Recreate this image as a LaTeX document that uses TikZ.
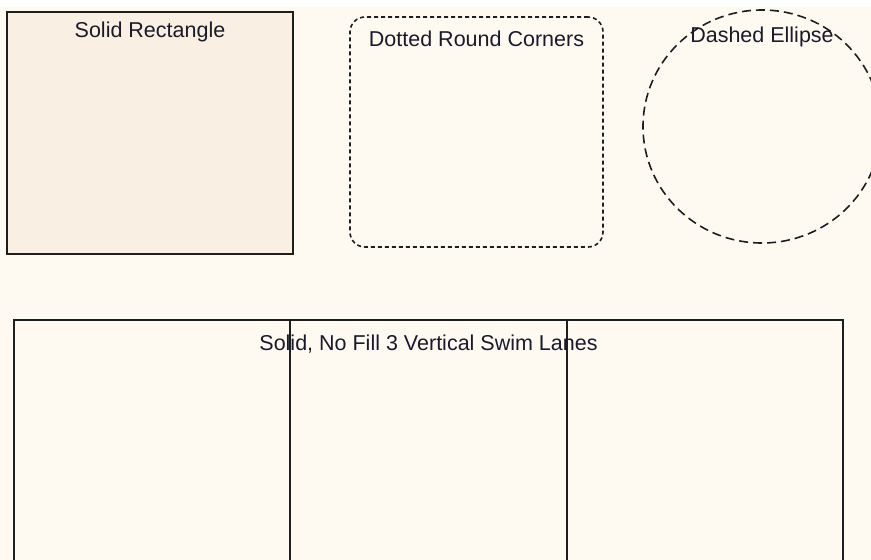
\documentclass[tikz,border=0pt]{standalone}
\usepackage{fontspec}
\setmainfont{Liberation Sans}
\usetikzlibrary{positioning, shapes.geometric}
\definecolor{color_canvas}{HTML}{FEFAF2}
\definecolor{color_fill}{HTML}{F9EFE2}
\definecolor{color_line}{HTML}{1E1E1E}
\definecolor{color_text}{HTML}{1A1A2A}
\tikzset{
  shape_solid/.style={draw=color_line, line width=1.6pt, fill=color_fill, inner sep=0pt},
  shape_dotted/.style={draw=color_line, line width=1.6pt, rounded corners=15pt, dash pattern=on 4pt off 3pt, inner sep=0pt},
  shape_dashed/.style={ellipse, draw=color_line, line width=1.6pt, dash pattern=on 9pt off 5pt, inner sep=0pt},
  swim_lane/.style={draw=color_line, line width=1.6pt, inner sep=0pt, outer sep=0pt, minimum width=276pt, minimum height=300pt, anchor=north west},
  shape_label/.style={font=\fontsize{21.5}{24}\selectfont, text=color_text, inner sep=0pt},
}
\begin{document}
\begin{tikzpicture}[x=1pt, y=-1pt]
    \fill[color_canvas] (0,0) rectangle (871,560);
    \fill[white] (0,0) rectangle (871,7);
    \useasboundingbox (0,0) rectangle (871,560);
    \clip (0,0) rectangle (871,560);
    % top row of shapes
    \node[shape_solid, minimum width=286pt, minimum height=242pt] (solid_box) at (150,133) {};
    \node[shape_label, below=11pt of solid_box.north] {Solid Rectangle};
    \node[shape_dotted, minimum width=253pt, minimum height=230pt] (dotted_box) at (476.5,132) {};
    \node[shape_label, below=15pt of dotted_box.north] {Dotted Round Corners};
    \node[shape_dashed, minimum width=238pt, minimum height=233pt] (dashed_oval) at (762,126.5) {};
    \node[shape_label, below=18pt of dashed_oval.north] {Dashed Ellipse};
    % swim lanes
    \node[swim_lane] (lane_a) at (14,320) {};
    \node[swim_lane, minimum width=277pt] (lane_b) at (lane_a.north east) {};
    \node[shape_label, below=15pt of lane_b.north] {Solid, No Fill 3 Vertical Swim Lanes};
    \node[swim_lane] (lane_c) at (lane_b.north east) {};
    \draw[color_line, line width=1.6pt] (lane_b.north west) -- (lane_b.south west);
  \end{tikzpicture}
\end{document}
